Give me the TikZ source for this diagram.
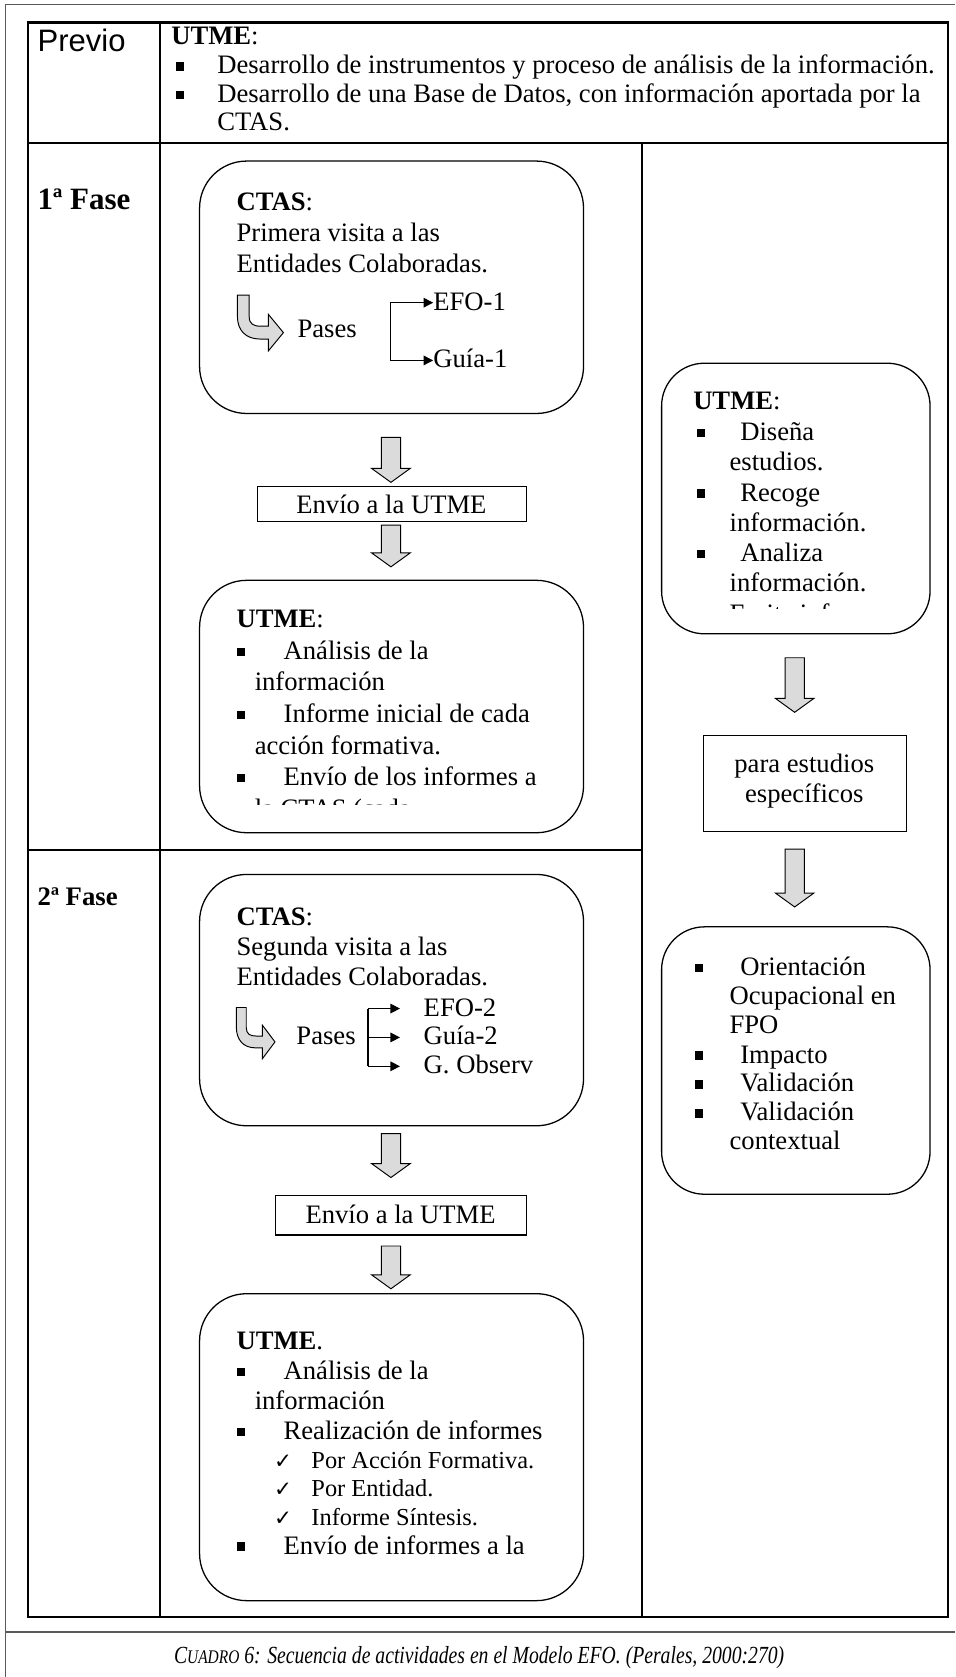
\documentclass[tikz,border=0pt]{standalone}
\usepackage{fontspec}
\setmainfont{Liberation Serif}
\newfontfamily\sansfont{Liberation Sans}
\newfontfamily\symbolfont{DejaVu Sans}
\newfontfamily\captionfont[FakeStretch=0.8]{Liberation Serif}
\usetikzlibrary{calc,arrows.meta}
\newcommand\bodysize{\fontsize{24.9}{28.6}\selectfont}
\newcommand\listsize{\fontsize{22.8}{26}\selectfont}
\definecolor{arrowgray}{gray}{0.86}
\definecolor{framegray}{gray}{0.35}
% square bullet: x of left edge, baseline y
\newcommand\sqbullet[2]{\fill (#1,#2-11) rectangle ++(7,8);}
% check mark item marker
\newcommand\checkitem[2]{\node[anchor=base west,inner sep=0pt,font=\symbolfont\fontsize{20}{22}\selectfont] at (#1,#2) {✓};}
% grey block arrow pointing down between two named coordinates
\newcommand\blockdown[2]{%
  \filldraw[blockarrow] ($(#1)+(-9,0)$) -- ($(#1)+(9,0)$) -- ($(#2)+(9,-13)$) -- ($(#2)+(18,-13)$)
    -- (#2) -- ($(#2)+(-18,-13)$) -- ($(#2)+(-9,-13)$) -- cycle;}

\begin{document}
\begin{tikzpicture}[x=1pt,y=-1pt,
  rule/.style={line width=2pt},
  outerrule/.style={line width=1.4pt,framegray},
  roundbox/.style={draw,line width=1.2pt,rounded corners=44pt,inner sep=0pt,anchor=north west},
  squarebox/.style={draw,line width=1.2pt,inner sep=0pt,anchor=north west},
  blockarrow/.style={fill=arrowgray,draw,line width=0.9pt,line join=miter},
  branch/.style={line width=1.2pt,-{Triangle[length=9pt,width=9pt]}},
  txt/.style={anchor=base west,inner sep=0pt,font=\bodysize},
  subtxt/.style={anchor=base west,inner sep=0pt,font=\listsize},
  ctr/.style={anchor=base,inner sep=0pt,font=\bodysize},
  bentarrow/.pic={
    \filldraw[blockarrow] (0,0) -- (11,0) -- (11,20) .. controls (11,27) and (15,29) .. (22,29)
      -- (29,29) -- (29,18) -- (43,35) -- (29,52) -- (29,41) -- (21,41)
      .. controls (8,41) and (0,33) .. (0,20) -- cycle;
  },
]
\useasboundingbox (0,0) rectangle (893,1568);

% outer frame and caption row
\draw[outerrule] (5,4) -- (893,4);
\draw[outerrule] (5,4) -- (5,1568);
\draw[outerrule] (5,1526) -- (893,1526);

% table grid
\draw[rule] (26,21) rectangle (886,1512);
\draw[rule] (26,133.5) -- (886,133.5);
\draw[rule] (150,21) -- (150,1512);
\draw[rule] (600,133.5) -- (600,1512);
\draw[rule] (26,795) -- (600,795);

% ---- first row
\node[anchor=base west,inner sep=0pt,font=\sansfont\fontsize{29}{33}\selectfont] (previo) at (35,48) {Previo};
\node[txt] (prevhead) at (160,42) {\textbf{UTME}:};
\sqbullet{165}{69}
\node[txt] (prev1) at (203,69) {Desarrollo de instrumentos y proceso de análisis de la información.};
\sqbullet{165}{96}
\node[txt] (prev2) at (203,96) {Desarrollo de una Base de Datos, con información aportada por la};
\node[txt] (prev3) at (203,122) {CTAS.};

% ---- phase labels
\node[anchor=base west,inner sep=0pt,font=\bfseries\fontsize{29}{33}\selectfont] (fase1) at (35,196) {1ª Fase};
\node[anchor=base west,inner sep=0pt,font=\bfseries\fontsize{25}{29}\selectfont] (fase2) at (35,847) {2ª Fase};

% ---- boxes
\node[roundbox,minimum width=359pt,minimum height=236pt] (ctas1) at (186,150) {};
\node[squarebox,minimum width=252pt,minimum height=33pt] (envio1) at (240,454) {};
\node[roundbox,minimum width=359pt,minimum height=236pt] (utme1) at (186,542) {};
\node[roundbox,minimum width=359pt,minimum height=235pt] (ctas2) at (186,817) {};
\node[squarebox,minimum width=235pt,minimum height=37pt] (envio2) at (257,1117) {};
\node[roundbox,minimum width=359pt,minimum height=287pt] (utme2) at (186,1209) {};
\node[roundbox,rounded corners=40pt,minimum width=251pt,minimum height=253pt] (utmeR) at (618,339) {};
\node[squarebox,minimum width=190pt,minimum height=90pt] (paraR) at (657,687) {};
\node[roundbox,rounded corners=40pt,minimum width=251pt,minimum height=250pt] (listR) at (618,866) {};

% ---- block arrows
\coordinate (a1s) at (365.5,409);  \coordinate (a1e) at (365.5,451);
\coordinate (a2s) at (365.5,491);  \coordinate (a2e) at (365.5,530);
\coordinate (a3s) at (365.5,1060); \coordinate (a3e) at (365.5,1101);
\coordinate (a4s) at (365.5,1165); \coordinate (a4e) at (365.5,1205);
\coordinate (r1s) at (743,615);    \coordinate (r1e) at (743,666);
\coordinate (r2s) at (743,794);    \coordinate (r2e) at (743,848);
\blockdown{a1s}{a1e}
\blockdown{a2s}{a2e}
\blockdown{a3s}{a3e}
\blockdown{a4s}{a4e}
\blockdown{r1s}{r1e}
\blockdown{r2s}{r2e}

% ---- CTAS, first visit
\node[txt] (c1a) at (221,197) {\textbf{CTAS}:};
\node[txt] (c1b) at (221,226) {Primera visita a las};
\node[txt] (c1c) at (221,254.5) {Entidades Colaboradas.};
\pic at (222,276) {bentarrow};
\node[txt] (pases1) at (278,316) {Pases};
\coordinate (b1t) at (365,283);
\coordinate (b1b) at (365,337);
\node[txt] (efo1) at (405,290) {EFO-1};
\node[txt] (guia1) at (405,344) {Guía-1};
\draw[line width=1.2pt] (b1t) -- (b1b);
\draw[branch] (b1t) -- (efo1.west |- b1t);
\draw[branch] (b1b) -- (guia1.west |- b1b);

% ---- sending box
\node[ctr] (envio1t) at (366,480) {Envío a la UTME};

% ---- UTME, first analysis
\node[txt] (u1a) at (221,587) {\textbf{UTME}:};
\sqbullet{222}{616.5}
\node[txt] (u1b) at (265,616.5) {Análisis de la};
\node[txt] (u1c) at (238,646) {información};
\sqbullet{222}{675.5}
\node[txt] (u1d) at (265,675.5) {Informe inicial de cada};
\node[txt] (u1e) at (238,705) {acción formativa.};
\sqbullet{222}{734.5}
\node[txt] (u1f) at (265,734.5) {Envío de los informes a};
\begin{scope}
  \clip (190,700) rectangle (540,752);
  \node[txt] (u1g) at (238,764) {la CTAS (cada};
\end{scope}

% ---- CTAS, second visit
\node[txt] (c2a) at (221,865) {\textbf{CTAS}:};
\node[txt] (c2b) at (221,893) {Segunda visita a las};
\node[txt] (c2c) at (221,921) {Entidades Colaboradas.};
\pic[xscale=0.84,yscale=0.92] at (221,942) {bentarrow};
\node[txt] (pases2) at (277,977) {Pases};
\coordinate (b2t) at (344,943);
\coordinate (b2m) at (344,970);
\coordinate (b2b) at (344,997);
\node[txt] (efo2) at (396,950) {EFO-2};
\node[txt] (guia2) at (396,977) {Guía-2};
\node[txt] (obs2) at (396,1004) {G. Observ};
\draw[line width=1.2pt] (b2t) -- (b2b);
\draw[branch] (b2t) -- ([xshift=-22pt]efo2.west |- b2t);
\draw[branch] (b2m) -- ([xshift=-22pt]guia2.west |- b2m);
\draw[branch] (b2b) -- ([xshift=-22pt]obs2.west |- b2b);

\node[ctr] (envio2t) at (374.5,1144) {Envío a la UTME};

% ---- UTME, reports
\node[txt] (u2a) at (221,1262) {\textbf{UTME}.};
\sqbullet{222}{1290}
\node[txt] (u2b) at (265,1290) {Análisis de la};
\node[txt] (u2c) at (238,1318) {información};
\sqbullet{222}{1346}
\node[txt] (u2d) at (265,1346) {Realización de informes};
\checkitem{256}{1373}
\node[subtxt] (u2e) at (291,1373) {Por Acción Formativa.};
\checkitem{256}{1399}
\node[subtxt] (u2f) at (291,1399) {Por Entidad.};
\checkitem{256}{1426}
\node[subtxt] (u2g) at (291,1426) {Informe Síntesis.};
\sqbullet{222}{1453}
\node[txt] (u2h) at (265,1453) {Envío de informes a la};

% ---- right column
\node[txt] (rha) at (648,383) {\textbf{UTME}:};
\sqbullet{652}{412}
\node[txt] (rhb) at (692,412) {Diseña};
\node[txt] (rhc) at (682,440) {estudios.};
\sqbullet{652}{468.5}
\node[txt] (rhd) at (692,468.5) {Recoge};
\node[txt] (rhe) at (682,497) {información.};
\sqbullet{652}{525}
\node[txt] (rhf) at (692,525) {Analiza};
\node[txt] (rhg) at (682,553.5) {información.};
\begin{scope}
  \clip (620,540) rectangle (865,569);
  \node[txt] (rhh) at (682,582) {Emite informes};
\end{scope}

\node[ctr] (para1) at (752,722) {para estudios};
\node[ctr] (para2) at (752,750) {específicos};

\sqbullet{650}{912}
\node[txt] (l1) at (692,912) {Orientación};
\node[txt] (l2) at (682,939) {Ocupacional en};
\node[txt] (l3) at (682,966.5) {FPO};
\sqbullet{650}{994}
\node[txt] (l4) at (692,994) {Impacto};
\sqbullet{650}{1021}
\node[txt] (l5) at (692,1021) {Validación};
\sqbullet{650}{1048}
\node[txt] (l6) at (692,1048) {Validación};
\node[txt] (l7) at (682,1075) {contextual};

% ---- caption
\node[anchor=base,inner sep=0pt,font=\captionfont\itshape\fontsize{23}{26}\selectfont] (caption) at (448,1555)
  {C{\fontsize{18}{20}\selectfont UADRO} 6: Secuencia de actividades en el Modelo EFO. (Perales, 2000:270)};
\end{tikzpicture}
\end{document}
